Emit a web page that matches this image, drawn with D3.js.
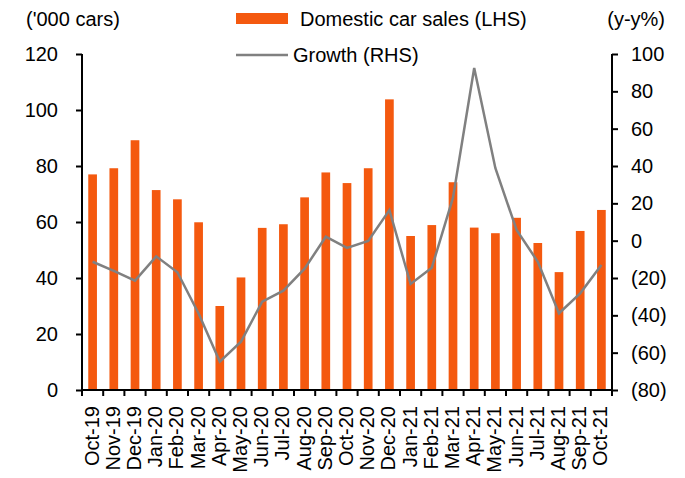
<!DOCTYPE html>
<html>
<head>
<meta charset="utf-8">
<script src="https://cdn.jsdelivr.net/npm/d3@7"></script>
<style>
  body { margin: 0; background: #fff; }
  svg text { font-family: Arial, "Liberation Sans", sans-serif; fill: #000; }
</style>
</head>
<body>
<div class="chart"></div>
<script>
const months = ["Oct-19", "Nov-19", "Dec-19", "Jan-20", "Feb-20", "Mar-20", "Apr-20", "May-20",
                "Jun-20", "Jul-20", "Aug-20", "Sep-20", "Oct-20", "Nov-20", "Dec-20", "Jan-21",
                "Feb-21", "Mar-21", "Apr-21", "May-21", "Jun-21", "Jul-21", "Aug-21", "Sep-21", "Oct-21"];
const sales = [77.0, 79.2, 89.2, 71.4, 68.1, 59.9, 30.0, 40.2, 57.9, 59.2, 68.8, 77.7, 73.9,
               79.2, 103.8, 55.0, 58.9, 74.2, 58.0, 56.0, 61.5, 52.5, 42.1, 56.8, 64.3];
const growth = [-11.3, -16.2, -21.4, -8.4, -16.9, -39, -64.8, -54.1, -32.7, -26.8, -15.0, 2.1, -3.9,
                -0.2, 16.4, -23.2, -14.5, 23.0, 92.5, 38.8, 5.7, -11.3, -38.9, -28.2, -13.0];
const leftTicks = [0, 20, 40, 60, 80, 100, 120];
const rightTicks = [-80, -60, -40, -20, 0, 20, 40, 60, 80, 100];

const width = 685, height = 478;
const margin = {top: 54, right: 73, bottom: 88, left: 82};
const w = width - margin.left - margin.right,
      h = height - margin.top - margin.bottom;

const svg = d3.select(".chart").append("svg")
    .attr("width", width)
    .attr("height", height);

const g = svg.append("g")
    .attr("transform", "translate(" + margin.left + "," + margin.top + ")");

const x = d3.scaleBand()
    .domain(months)
    .range([0, w]);

const yL = d3.scaleLinear().domain([0, 120]).range([h, 0]);
const yR = d3.scaleLinear().domain([-80, 100]).range([h, 0]);

const fmtR = d => d < 0 ? "(" + Math.abs(d) + ")" : d;

// bars
const barW = x.bandwidth() * 0.41;
g.append("g")
    .selectAll("rect")
    .data(sales)
    .enter().append("rect")
    .attr("x", (d, i) => x(months[i]) + (x.bandwidth() - barW) / 2)
    .attr("y", d => yL(d))
    .attr("width", barW)
    .attr("height", d => h - yL(d))
    .attr("fill", "#F4590F");

// growth line
const line = d3.line()
    .x((d, i) => x(months[i]) + x.bandwidth() / 2)
    .y(d => yR(d));

g.append("path")
    .datum(growth)
    .attr("d", line)
    .attr("fill", "none")
    .attr("stroke", "#808080")
    .attr("stroke-width", 2.5)
    .attr("stroke-linejoin", "miter");

// axes
const fontSize = 20;

const leftAxis = g.append("g")
    .call(d3.axisLeft(yL).tickValues(leftTicks).tickSize(6).tickPadding(18));
const rightAxis = g.append("g")
    .attr("transform", "translate(" + w + ",0)")
    .call(d3.axisRight(yR).tickValues(rightTicks).tickSize(6).tickPadding(13).tickFormat(fmtR));

const xAxis = g.append("g")
    .attr("transform", "translate(0," + h + ")")
    .call(d3.axisBottom(x).tickSize(0).tickPadding(0));

// category boundary ticks on x axis
xAxis.append("g")
    .selectAll("line")
    .data(months.concat(["end"]))
    .enter().append("line")
    .attr("x1", (d, i) => i * x.step())
    .attr("x2", (d, i) => i * x.step())
    .attr("y1", 0)
    .attr("y2", 6)
    .attr("stroke", "#000")
    .attr("stroke-width", 2);

xAxis.selectAll(".tick text")
    .attr("transform", "rotate(-90)")
    .attr("x", -16)
    .attr("y", 0)
    .attr("dy", "0.3em")
    .style("text-anchor", "end");

[leftAxis, rightAxis, xAxis].forEach(a => {
    a.select(".domain").attr("stroke", "#000").attr("stroke-width", 2);
    a.selectAll(".tick line").attr("stroke", "#000").attr("stroke-width", 2);
    a.selectAll("text").style("font-size", fontSize + "px")
        .attr("font-family", "Arial, 'Liberation Sans', sans-serif").attr("fill", "#000");
});
leftAxis.select(".domain").attr("d", "M0," + h + "V0");
rightAxis.select(".domain").attr("d", "M0," + h + "V0");
xAxis.select(".domain").attr("d", "M0,0H" + w);

// axis titles
svg.append("text")
    .attr("x", 26)
    .attr("y", 26)
    .style("font-size", fontSize + "px")
    .text("('000 cars)");

svg.append("text")
    .attr("x", 665)
    .attr("y", 26)
    .style("text-anchor", "end")
    .style("font-size", fontSize + "px")
    .text("(y-y%)");

// legend
const legend = svg.append("g").attr("transform", "translate(236,0)");
legend.append("rect")
    .attr("x", 0)
    .attr("y", 13)
    .attr("width", 52)
    .attr("height", 11)
    .attr("fill", "#F4590F");
legend.append("text")
    .attr("x", 64)
    .attr("y", 26)
    .style("font-size", fontSize + "px")
    .text("Domestic car sales (LHS)");
legend.append("line")
    .attr("x1", 0)
    .attr("x2", 52)
    .attr("y1", 55)
    .attr("y2", 55)
    .attr("stroke", "#808080")
    .attr("stroke-width", 2.5);
legend.append("text")
    .attr("x", 57)
    .attr("y", 62)
    .style("font-size", fontSize + "px")
    .text("Growth (RHS)");
</script>
</body>
</html>
